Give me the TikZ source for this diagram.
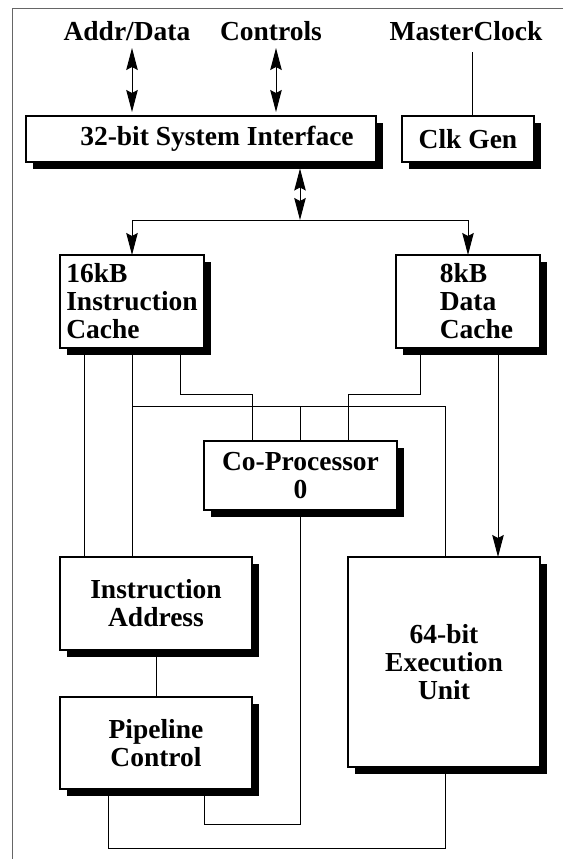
\documentclass[tikz,border=0pt]{standalone}
\usepackage{fontspec}
\setmainfont{Liberation Serif}
\usetikzlibrary{arrows.meta,shadows}

\begin{document}
\begin{tikzpicture}[x=1pt,y=-1pt,
  every node/.style={font=\fontsize{27.5}{28}\selectfont\bfseries},
  blk/.style={draw, line width=1.1pt, fill=white, inner sep=0pt, outer sep=0pt,
    anchor=north west, align=center,
    drop shadow={shadow xshift=6.5pt, shadow yshift=-6.5pt, fill=black, opacity=1}},
  lbl/.style={anchor=base, inner sep=0pt},
  wire/.style={line width=1pt},
  tip/.style={line width=1pt, -{Stealth[length=22pt,width=11.5pt,inset=3pt]}},
  bidir/.style={line width=1pt,
    {Stealth[length=22pt,width=11.5pt,inset=3pt]}-{Stealth[length=22pt,width=11.5pt,inset=3pt]}},
  frame/.style={line width=1pt, black!60}]

\useasboundingbox (0,0) rectangle (563,859);

% outer frame (top and left edges)
\coordinate (fTR) at (563,9);
\coordinate (fTL) at (12,9);
\coordinate (fBL) at (12,859);
\draw[frame] (fTR) -- (fTL) -- (fBL);

% external signal names
\node[lbl] (addr) at (127,41) {Addr/Data};
\node[lbl] (ctl)  at (271,41) {Controls};
\node[lbl] (mclk) at (466,41) {MasterClock};

% functional blocks
\node[blk, minimum width=350pt, minimum height=46pt] (si) at (26,116)
  {\hspace*{32pt}32-bit System Interface};
\node[blk, minimum width=132pt, minimum height=46pt] (clk) at (402,116) {Clk Gen};
\node[blk, minimum width=144pt, minimum height=93pt, align=left] (ic) at (60,255)
  {16kB\\Instruction\\Cache};
\node[blk, minimum width=144pt, minimum height=93pt, align=left] (dc) at (396,255)
  {\hspace*{17pt}8kB\\\hspace*{17pt}Data\\\hspace*{17pt}Cache};
\node[blk, minimum width=193pt, minimum height=69pt] (cp) at (204,441) {Co-Processor\\0};
\node[blk, minimum width=192pt, minimum height=93pt] (ia) at (60,557) {Instruction\\Address};
\node[blk, minimum width=192pt, minimum height=92pt] (pc) at (60,697) {Pipeline\\Control};
\node[blk, minimum width=192pt, minimum height=210pt] (eu) at (348,557)
  {64-bit\\Execution\\Unit};

% external connections
\coordinate (addrT) at ([xshift=5pt,yshift=-7pt]addr.base);
\coordinate (ctlT)  at ([xshift=5pt,yshift=-7pt]ctl.base);
\coordinate (mclkB) at ([yshift=-11pt]mclk.base);
\coordinate (clkT)  at ([xshift=70pt]clk.north west);
\draw[bidir, shorten >=4pt] (addrT) -- (addrT |- si.north);
\draw[bidir, shorten >=4pt] (ctlT) -- (ctlT |- si.north);
\draw[wire] (clkT) -- (clkT |- mclkB);

% internal bus to the caches
\coordinate (bus) at (0,220);
\coordinate (siB) at ([xshift=274pt]si.south west);
\draw[bidir, shorten <=6.5pt] (siB) -- (siB |- bus);
\draw[wire] (ic.north |- bus) -- (dc.north |- bus);
\draw[tip] (ic.north |- bus) -- (ic.north);
\draw[tip] (dc.north |- bus) -- (dc.north);

% routing levels
\coordinate (lvA) at (0,394);
\coordinate (lvB) at (0,406);
\coordinate (lvC) at (0,824);
\coordinate (lvD) at (0,848);

% attachment points on the blocks
\coordinate (icB1) at ([xshift=24pt]ic.south west);
\coordinate (icB3) at ([xshift=120pt]ic.south west);
\coordinate (dcB1) at ([xshift=24pt]dc.south west);
\coordinate (dcB2) at ([xshift=102pt]dc.south west);
\coordinate (cpT1) at ([xshift=48pt]cp.north west);
\coordinate (cpT3) at ([xshift=144pt]cp.north west);
\coordinate (pcB1) at ([xshift=48pt]pc.south west);
\coordinate (pcB2) at ([xshift=144pt]pc.south west);
\coordinate (euT1) at ([xshift=97pt]eu.north west);
\coordinate (euB1) at ([xshift=97pt]eu.south west);

% internal connections
\draw[wire] (icB1) -- (icB1 |- ia.north);
\draw[wire] (ic.south) -- (ic.south |- ia.north);
\draw[wire] (ic.south |- lvB) -| (euT1);
\draw[wire] (cp.north |- lvB) -- (cp.north);
\draw[wire] (icB3) |- (cpT1 |- lvA) -- (cpT1);
\draw[wire] (dcB1) |- (cpT3 |- lvA) -- (cpT3);
\draw[tip] (dcB2) -- (dcB2 |- eu.north);
\draw[wire] (cp.south) |- (pcB2 |- lvC) -- (pcB2);
\draw[wire] (ia.south) -- (pc.north);
\draw[wire] (pcB1) |- (euB1 |- lvD) -- (euB1);
\end{tikzpicture}
\end{document}
